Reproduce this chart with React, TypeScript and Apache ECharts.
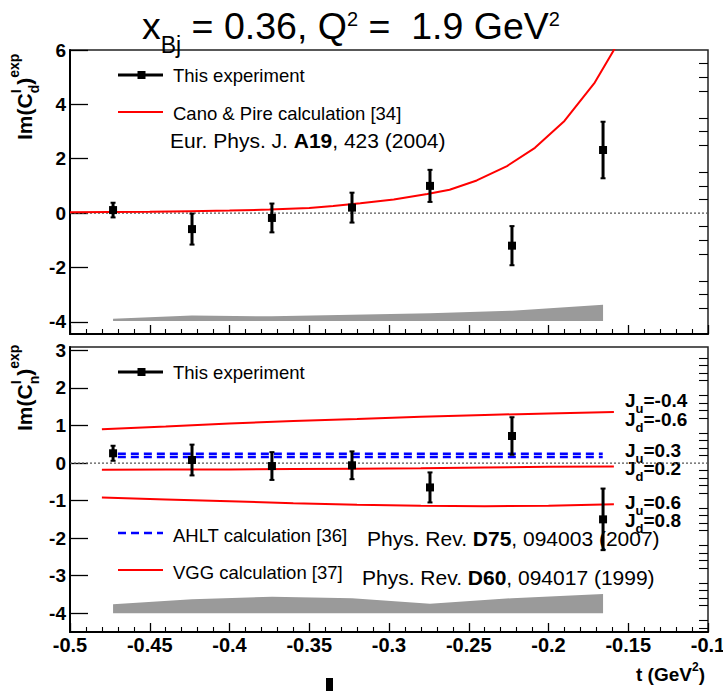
import React, { useEffect, useRef } from 'react';
import * as echarts from 'echarts';

// ---------- data ----------
const tPoints = [-0.473, -0.4235, -0.3734, -0.3232, -0.2743, -0.2229, -0.1658];

// top panel: Im(C_d)
const dValues = [0.11, -0.59, -0.18, 0.2, 1.0, -1.2, 2.32];
const dErrors = [0.27, 0.57, 0.53, 0.55, 0.59, 0.72, 1.04];
const dSysTop = [-3.89, -3.77, -3.8, -3.74, -3.69, -3.59, -3.37];
const dSysBase = -3.975;

const canoT = [-0.5, -0.475, -0.45, -0.425, -0.4, -0.375, -0.35, -0.335, -0.318, -0.297, -0.276, -0.262, -0.245, -0.226, -0.2085, -0.19, -0.171, -0.159, -0.155];
const canoV = [0.03, 0.04, 0.05, 0.07, 0.09, 0.13, 0.19, 0.26, 0.36, 0.5, 0.7, 0.86, 1.2, 1.73, 2.4, 3.39, 4.8, 6.0, 6.5];

// bottom panel: Im(C_n)
const nValues = [0.26, 0.08, -0.08, -0.06, -0.65, 0.72, -1.5];
const nErrors = [0.2, 0.41, 0.37, 0.37, 0.4, 0.5, 0.82];
const nSysTop = [-3.76, -3.63, -3.56, -3.6, -3.75, -3.6, -3.49];
const nSysBase = -4.0;

const ahltT = [-0.47, -0.166];
const ahltA = [0.25, 0.25];
const ahltB = [0.16, 0.16];

const vggT = [-0.48, -0.44, -0.4, -0.36, -0.32, -0.28, -0.24, -0.2, -0.159];
const vggUpper = [0.9, 0.97, 1.05, 1.12, 1.17, 1.23, 1.28, 1.32, 1.36];
const vggMiddle = [-0.18, -0.175, -0.17, -0.16, -0.15, -0.14, -0.12, -0.1, -0.09];
const vggLower = [-0.92, -0.97, -1.02, -1.07, -1.11, -1.14, -1.15, -1.14, -1.1];

// axes
const xMin = -0.5;
const xMax = -0.1;
const xStep = 0.05;
const dMin = -4.45;
const dMax = 6;
const dMajor = [-4, -2, 0, 2, 4, 6];
const dMinorStep = 0.5;
const nMin = -4.5;
const nMax = 3.09;
const nMajor = [-4, -3, -2, -1, 0, 1, 2, 3];
const nMinorStep = 0.2;

const FONT = '"Liberation Sans", Arial, Helvetica, sans-serif';

function minorValues(min: number, max: number, step: number, majors: number[]) {
  const out: number[] = [];
  const start = Math.ceil(min / step - 1e-9);
  const end = Math.floor(max / step + 1e-9);
  for (let k = start; k <= end; k++) {
    const v = Math.round(k * step * 1000) / 1000;
    if (!majors.some((m) => Math.abs(m - v) < 1e-6)) out.push(v);
  }
  return out;
}

let mctx: CanvasRenderingContext2D | null = null;
function textWidth(t: string, size: number, bold: boolean) {
  if (!mctx) mctx = document.createElement('canvas').getContext('2d');
  mctx!.font = `${bold ? 'bold' : 'normal'} ${size}px ${FONT}`;
  return mctx!.measureText(t).width;
}

type Piece = { t: string; size: number; bold?: boolean; dy?: number; stack?: boolean; color?: string };

function compose(pieces: Piece[], x0: number, y0: number) {
  const els: any[] = [];
  let x = x0;
  let prevStart = x0;
  for (const p of pieces) {
    const w = textWidth(p.t, p.size, !!p.bold);
    const start = p.stack ? prevStart : x;
    els.push({
      type: 'text',
      x: start,
      y: y0 + (p.dy || 0),
      style: {
        text: p.t,
        fill: p.color || '#000',
        fontSize: p.size,
        fontWeight: p.bold ? 'bold' : 'normal',
        fontFamily: FONT,
        textAlign: 'left',
        textVerticalAlign: 'middle',
        align: 'left',
        verticalAlign: 'middle',
      },
    });
    if (p.stack) {
      x = Math.max(x, start + w);
    } else {
      prevStart = start;
      x = start + w;
    }
  }
  return els;
}

function makeX(gridIndex: number, showLabels: boolean) {
  return {
    type: 'value',
    gridIndex,
    min: xMin,
    max: xMax,
    interval: xStep,
    axisLine: { show: true, onZero: false, lineStyle: { color: '#000', width: 2 } },
    axisTick: { show: true, inside: true, length: 9, lineStyle: { color: '#000', width: 1.3 } },
    minorTick: { show: true, splitNumber: 5, length: 5, lineStyle: { color: '#000', width: 1.1 } },
    splitLine: { show: false },
    minorSplitLine: { show: false },
    axisLabel: {
      show: showLabels,
      margin: 3,
      color: '#000',
      fontSize: 20,
      fontWeight: 'bold',
      fontFamily: FONT,
      showMinLabel: true,
      showMaxLabel: true,
      formatter: (v: number) => String(+v.toFixed(2)),
    },
  };
}

function makeYMajor(gridIndex: number, min: number, max: number, majors: number[]) {
  return {
    type: 'value',
    gridIndex,
    min,
    max,
    axisLine: { show: true, onZero: false, lineStyle: { color: '#000', width: 2 } },
    axisTick: { show: true, inside: true, length: 18, customValues: majors, lineStyle: { color: '#000', width: 1.3 } },
    splitLine: { show: false },
    axisLabel: {
      show: true,
      customValues: majors,
      margin: 4,
      color: '#000',
      fontSize: 19,
      fontWeight: 'bold',
      fontFamily: FONT,
      formatter: (v: number) => String(v),
    },
  };
}

function makeYMinor(gridIndex: number, min: number, max: number, minors: number[]) {
  return {
    type: 'value',
    gridIndex,
    min,
    max,
    axisLine: { show: false, onZero: false },
    axisTick: { show: true, inside: true, length: 9, customValues: minors, lineStyle: { color: '#000', width: 1.1 } },
    splitLine: { show: false },
    axisLabel: { show: false, customValues: minors },
  };
}

function bandSeries(xi: number, yi: number, tops: number[], base: number) {
  return {
    type: 'custom',
    xAxisIndex: xi,
    yAxisIndex: yi,
    silent: true,
    z: 1,
    data: tPoints.map((t, i) => [t, tops[i]]),
    renderItem: (params: any, api: any) => {
      if (params.dataIndex !== 0) return null;
      const pts: number[][] = [];
      tPoints.forEach((t, i) => pts.push(api.coord([t, tops[i]])));
      for (let i = tPoints.length - 1; i >= 0; i--) pts.push(api.coord([tPoints[i], base]));
      return { type: 'polygon', shape: { points: pts }, style: { fill: '#9a9a9a', stroke: 'none' } };
    },
  };
}

function errorSeries(xi: number, yi: number, vals: number[], errs: number[]) {
  return {
    type: 'custom',
    xAxisIndex: xi,
    yAxisIndex: yi,
    z: 5,
    data: tPoints.map((t, i) => [t, vals[i], errs[i]]),
    renderItem: (params: any, api: any) => {
      const t = api.value(0);
      const v = api.value(1);
      const e = api.value(2);
      const c = api.coord([t, v]);
      const hi = api.coord([t, v + e]);
      const lo = api.coord([t, v - e]);
      return {
        type: 'group',
        children: [
          { type: 'line', shape: { x1: c[0], y1: hi[1], x2: c[0], y2: lo[1] }, style: { stroke: '#000', lineWidth: 3 } },
          { type: 'line', shape: { x1: c[0] - 2.5, y1: hi[1], x2: c[0] + 2.5, y2: hi[1] }, style: { stroke: '#000', lineWidth: 2 } },
          { type: 'line', shape: { x1: c[0] - 2.5, y1: lo[1], x2: c[0] + 2.5, y2: lo[1] }, style: { stroke: '#000', lineWidth: 2 } },
          { type: 'rect', shape: { x: c[0] - 4, y: c[1] - 4, width: 8, height: 8 }, style: { fill: '#000' } },
        ],
      };
    },
  };
}

function lineSeries(xi: number, yi: number, ts: number[], vs: number[], color: string, width: number, type: any = 'solid') {
  return {
    type: 'line',
    xAxisIndex: xi,
    yAxisIndex: yi,
    data: ts.map((t, i) => [t, vs[i]]),
    showSymbol: false,
    symbol: 'none',
    smooth: false,
    clip: true,
    silent: true,
    z: 3,
    lineStyle: { color, width, type },
  };
}

function buildGraphics() {
  const els: any[] = [];
  const bold = true;
  // main title
  els.push(
    ...compose(
      [
        { t: 'x', size: 37.5 },
        { t: 'Bj', size: 23, dy: 19 },
        { t: ' = 0.36, Q', size: 37.5 },
        { t: '2', size: 20, dy: -7.5 },
        { t: ' =  1.9 GeV', size: 37.5 },
        { t: '2', size: 20, dy: -7.5 },
      ],
      142,
      26
    )
  );
  // y-axis titles (rotated)
  const ytitle = (sub: string) => [
    { t: 'Im(C', size: 21, bold },
    { t: 'I', size: 14, bold, dy: -8.5 },
    { t: sub, size: 14, bold, dy: 10, stack: true },
    { t: ')', size: 21, bold },
    { t: 'exp', size: 14, bold, dy: -10.5 },
  ];
  els.push({ type: 'group', x: 24, y: 140, rotation: Math.PI / 2, children: compose(ytitle('d'), 0, 0) });
  els.push({ type: 'group', x: 24, y: 431, rotation: Math.PI / 2, children: compose(ytitle('n'), 0, 0) });

  // top legend
  els.push({ type: 'line', shape: { x1: 118, y1: 75, x2: 163, y2: 75 }, style: { stroke: '#000', lineWidth: 3 } });
  els.push({ type: 'rect', shape: { x: 137.5, y: 71, width: 8, height: 8 }, style: { fill: '#000' } });
  els.push(...compose([{ t: 'This experiment', size: 18.5 }], 173, 75));
  els.push({ type: 'line', shape: { x1: 118, y1: 112, x2: 163, y2: 112 }, style: { stroke: '#ff0000', lineWidth: 2 } });
  els.push(...compose([{ t: 'Cano & Pire calculation [34]', size: 18.5 }], 173, 113));
  els.push(
    ...compose(
      [
        { t: 'Eur. Phys. J. ', size: 21 },
        { t: 'A19', size: 21, bold },
        { t: ', 423 (2004)', size: 21 },
      ],
      170,
      140
    )
  );

  // bottom legend
  els.push({ type: 'line', shape: { x1: 118, y1: 372, x2: 163, y2: 372 }, style: { stroke: '#000', lineWidth: 3 } });
  els.push({ type: 'rect', shape: { x: 137.5, y: 368, width: 8, height: 8 }, style: { fill: '#000' } });
  els.push(...compose([{ t: 'This experiment', size: 18.5 }], 173, 372));
  els.push({ type: 'line', shape: { x1: 118, y1: 533, x2: 163, y2: 533 }, style: { stroke: '#0000ff', lineWidth: 2.5, lineDash: [8, 5] } });
  els.push(...compose([{ t: 'AHLT calculation [36]', size: 18.5 }], 173, 535));
  els.push(
    ...compose(
      [
        { t: 'Phys. Rev. ', size: 21 },
        { t: 'D75', size: 21, bold },
        { t: ', 094003 (2007)', size: 21 },
      ],
      367,
      538
    )
  );
  els.push({ type: 'line', shape: { x1: 118, y1: 570, x2: 163, y2: 570 }, style: { stroke: '#ff0000', lineWidth: 2 } });
  els.push(...compose([{ t: 'VGG calculation [37]', size: 18.5 }], 173, 572));
  els.push(
    ...compose(
      [
        { t: 'Phys. Rev. ', size: 21 },
        { t: 'D60', size: 21, bold },
        { t: ', 094017 (1999)', size: 21 },
      ],
      362,
      577
    )
  );

  // J labels
  const jl = (sub: string, rest: string, y: number) =>
    els.push(
      ...compose(
        [
          { t: 'J', size: 19, bold },
          { t: sub, size: 13, bold, dy: 8 },
          { t: rest, size: 19, bold },
        ],
        625,
        y
      )
    );
  jl('u', '=-0.4', 400);
  jl('d', '=-0.6', 419);
  jl('u', '=0.3', 450);
  jl('d', '=0.2', 468);
  jl('u', '=0.6', 502);
  jl('d', '=0.8', 520);

  // x axis title
  els.push(
    ...compose(
      [
        { t: 't (GeV', size: 19, bold },
        { t: '2', size: 12, bold, dy: -7 },
        { t: ')', size: 19, bold },
      ],
      636,
      674
    )
  );

  // stray mark at the bottom
  els.push({ type: 'rect', shape: { x: 326, y: 678, width: 7, height: 13 }, style: { fill: '#000' } });
  return els;
}

export default function App() {
  const ref = useRef<HTMLDivElement>(null);
  useEffect(() => {
    document.body.style.margin = '0';
    if (!ref.current) return;
    const chart = echarts.init(ref.current, null, { renderer: 'svg' });
    const option: any = {
      animation: false,
      backgroundColor: '#fff',
      grid: [
        { left: 70, top: 50, width: 638, height: 284, show: true, borderColor: '#222', borderWidth: 1.5, backgroundColor: 'transparent', containLabel: false, outerBoundsMode: 'none' },
        { left: 70, top: 347, width: 638, height: 285, show: true, borderColor: '#222', borderWidth: 1.5, backgroundColor: 'transparent', containLabel: false, outerBoundsMode: 'none' },
      ],
      xAxis: [makeX(0, false), makeX(1, true)],
      yAxis: [
        makeYMajor(0, dMin, dMax, dMajor),
        makeYMinor(0, dMin, dMax, minorValues(dMin, dMax, dMinorStep, dMajor)),
        makeYMajor(1, nMin, nMax, nMajor),
        makeYMinor(1, nMin, nMax, minorValues(nMin, nMax, nMinorStep, nMajor)),
      ],
      series: [
        bandSeries(0, 0, dSysTop, dSysBase),
        lineSeries(0, 0, [xMin, xMax], [0, 0], '#555', 1.2, [2, 2]),
        lineSeries(0, 0, canoT, canoV, '#ff0000', 2),
        errorSeries(0, 0, dValues, dErrors),

        bandSeries(1, 2, nSysTop, nSysBase),
        lineSeries(1, 2, [xMin, xMax], [0, 0], '#555', 1.2, [2, 2]),
        lineSeries(1, 2, vggT, vggUpper, '#ff0000', 2),
        lineSeries(1, 2, vggT, vggMiddle, '#ff0000', 2),
        lineSeries(1, 2, vggT, vggLower, '#ff0000', 2),
        lineSeries(1, 2, ahltT, ahltA, '#0000ff', 2.5, [8, 5]),
        lineSeries(1, 2, ahltT, ahltB, '#0000ff', 2.5, [8, 5]),
        errorSeries(1, 2, nValues, nErrors),
      ],
      graphic: { elements: buildGraphics() },
    };
    chart.setOption(option);
    return () => chart.dispose();
  }, []);
  return <div ref={ref} style={{ width: 723, height: 691 }} />;
}
